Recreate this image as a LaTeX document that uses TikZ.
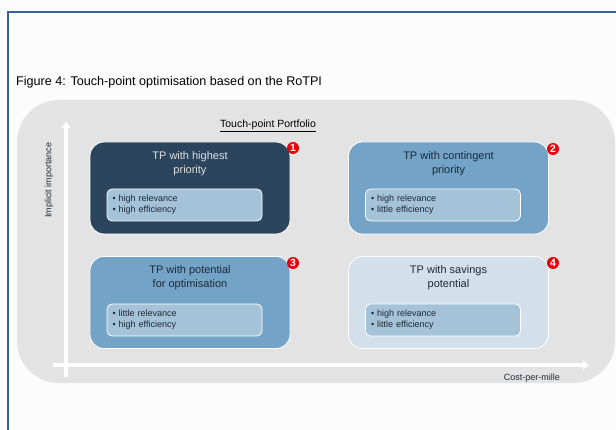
\documentclass[tikz,border=0pt]{standalone}
\usepackage{fontspec}
\setmainfont{Liberation Sans}
\usetikzlibrary{arrows.meta}
\definecolor{pagebg}{HTML}{FCFCFC}
\definecolor{frameblue}{HTML}{3A5F9A}
\definecolor{panelgray}{HTML}{E3E3E3}
\definecolor{navy}{HTML}{2B455E}
\definecolor{midblue}{HTML}{73A3C6}
\definecolor{paleblue}{HTML}{D3E0EB}
\definecolor{innerblue}{HTML}{A4C2D8}
\definecolor{darktext}{HTML}{1E2935}
\definecolor{badgered}{HTML}{E8000B}
\tikzset{
  quad/.style={draw=white, line width=0.8pt, rounded corners=14pt, minimum width=200pt, minimum height=92pt, inner sep=0pt},
  inner/.style={draw=white, line width=0.8pt, fill=innerblue, rounded corners=5pt, text width=144pt, inner xsep=5.5pt, minimum height=32pt, align=left, font=\fontsize{9}{11}\selectfont, text=darktext},
  qtitle/.style={align=center, font=\fontsize{11}{14}\selectfont, inner sep=0pt, anchor=north},
  badge/.style={circle, fill=badgered, text=white, inner sep=0pt, minimum size=12pt, font=\fontsize{10.5}{10.5}\selectfont\bfseries},
  axis/.style={white, line width=3.5pt, -{Triangle[width=9pt,length=6pt]}},
}
\begin{document}
\begin{tikzpicture}[x=1pt,y=-1pt]
\useasboundingbox (0,0) rectangle (616,430);
\fill[pagebg] (0,0) rectangle (616,430);
\draw[frameblue, line width=1.3pt] (8,431) -- (8,12) -- (617,12);
\node[anchor=west, inner sep=0pt, font=\fontsize{12.6}{14}\selectfont, text=black] (title) at (16,82.5) {Figure 4: Touch-point optimisation based on the RoTPI};
\fill[panelgray, rounded corners=42pt] (17,100) rectangle (615,383);
\node[inner sep=0pt, font=\fontsize{10.5}{12}\selectfont] (port) at (268,126) {\underline{Touch-point Portfolio}};
% axes
\coordinate (yfrom) at (66,377);
\coordinate (yto) at (66,122);
\coordinate (xfrom) at (53,365);
\coordinate (xto) at (589,365);
\draw[axis] (yfrom) -- (yto);
\draw[axis] (xfrom) -- (xto);
\node[rotate=90, inner sep=0pt, font=\fontsize{9}{10}\selectfont, text=darktext] (ylab) at (49,180) {Implicit importance};
\node[anchor=east, inner sep=0pt, font=\fontsize{9}{10}\selectfont, text=darktext] (xlab) at (560,378) {Cost-per-mille};
% quadrant 1
\node[quad, fill=navy] (q1) at (190,188) {};
\node[qtitle, text=white!88!black] (t1) at (190,151) {TP with highest\\priority};
\node[inner] (i1) at (184.5,205) {• high relevance\\• high efficiency};
\node[badge] (b1) at (293,148) {1};
% quadrant 2
\node[quad, fill=midblue] (q2) at (448.5,188) {};
\node[qtitle, text=darktext] (t2) at (448.5,151) {TP with contingent\\priority};
\node[inner] (i2) at (443,205) {• high relevance\\• little efficiency};
\node[badge] (b2) at (553,149) {2};
% quadrant 3
\node[quad, fill=midblue] (q3) at (190,302.5) {};
\node[qtitle, text=darktext] (t3) at (190,265) {TP with potential\\for optimisation};
\node[inner] (i3) at (184.5,320) {• little relevance\\• high efficiency};
\node[badge] (b3) at (293,263) {3};
% quadrant 4
\node[quad, fill=paleblue] (q4) at (448.5,302.5) {};
\node[qtitle, text=darktext] (t4) at (448.5,265) {TP with savings\\potential};
\node[inner] (i4) at (443,320) {• high relevance\\• little efficiency};
\node[badge] (b4) at (553,263) {4};
\end{tikzpicture}
\end{document}
